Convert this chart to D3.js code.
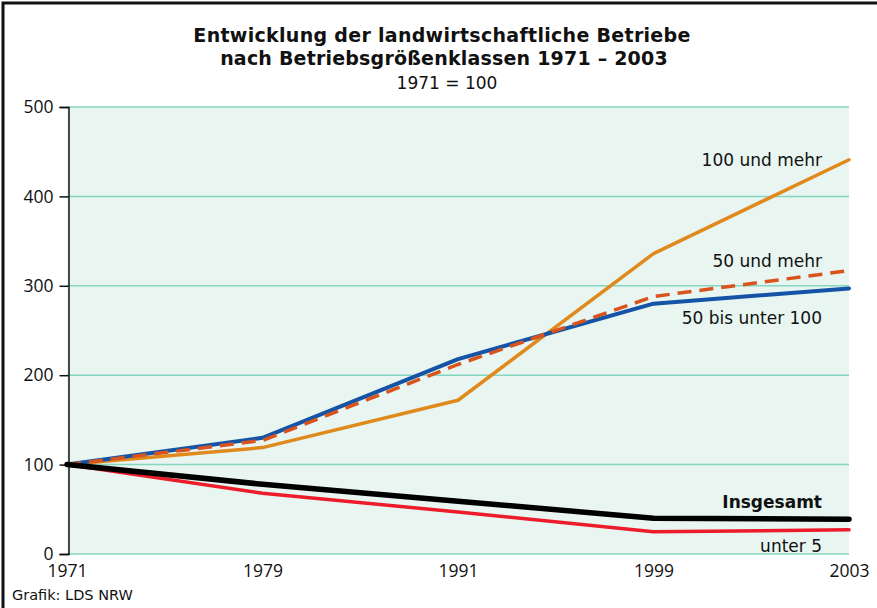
<!DOCTYPE html>
<html>
<head>
<meta charset="utf-8">
<script src="https://cdn.jsdelivr.net/npm/d3@7"></script>
<style>
  body { margin: 0; background: #fff; }
  svg text { font-family: "DejaVu Sans", sans-serif; fill: #111; }
</style>
</head>
<body>
<div id="chart"></div>
<script>
// Jahre und Indexwerte (1971 = 100)
const years = ["1971", "1979", "1991", "1999", "2003"];
const yTicks = [0, 100, 200, 300, 400, 500];

const insgesamt = [100, 78, 59, 40, 39];
const unter5 = [100, 68, 47, 25, 27];
const bis100 = [100, 130, 218, 280, 297];
const und50 = [100, 127, 212, 288, 317];
const und100 = [100, 119, 172, 336, 441];

const series = [
  { name: "100 und mehr", values: und100, color: "#e08a1e", width: 3.5, dash: null },
  { name: "50 bis unter 100", values: bis100, color: "#1553a6", width: 4, dash: null },
  { name: "50 und mehr", values: und50, color: "#d9541d", width: 3.5, dash: "14 8" },
  { name: "unter 5", values: unter5, color: "#ec1c2b", width: 3.5, dash: null },
  { name: "Insgesamt", values: insgesamt, color: "#000000", width: 5.5, dash: null }
];

const W = 877, H = 608;
const margin = { top: 107, right: 28, bottom: 54, left: 67 };
const width = W - margin.left - margin.right;
const height = H - margin.top - margin.bottom;

const svg = d3.select("#chart").append("svg")
  .attr("width", W).attr("height", H);

// Rahmen links und oben
svg.append("path")
  .attr("d", `M3,${H} L3,3 L${W},3`)
  .attr("fill", "none").attr("stroke", "#111").attr("stroke-width", 3);

// Titel
svg.append("text").attr("x", 442).attr("y", 42).attr("text-anchor", "middle")
  .style("font-size", "19px").style("font-weight", "700").style("letter-spacing", "0.3px")
  .text("Entwicklung der landwirtschaftliche Betriebe");
svg.append("text").attr("x", 444).attr("y", 65).attr("text-anchor", "middle")
  .style("font-size", "19px").style("font-weight", "700").style("letter-spacing", "0.2px")
  .text("nach Betriebsgrößenklassen 1971 – 2003");
svg.append("text").attr("x", 447).attr("y", 89).attr("text-anchor", "middle")
  .style("font-size", "17px")
  .text("1971 = 100");

const g = svg.append("g").attr("transform", `translate(${margin.left},${margin.top})`);

const x = d3.scalePoint().domain(years).range([0, width]);
const y = d3.scaleLinear().domain([0, 500]).range([height, 0]);

// Hintergrund
g.append("rect").attr("x", 0).attr("y", 0).attr("width", width).attr("height", height)
  .attr("fill", "#e8f5f0");

// Gitterlinien
g.selectAll(".grid").data(yTicks).join("line")
  .attr("class", "grid")
  .attr("x1", 0).attr("x2", width)
  .attr("y1", d => y(d)).attr("y2", d => y(d))
  .attr("stroke", "#86d5c2").attr("stroke-width", 1.5);

// Y-Achse
const yAxis = g.append("g").attr("transform", "translate(1.5,0)")
  .call(d3.axisLeft(y).tickValues(yTicks).tickSize(9).tickPadding(6));
yAxis.select(".domain").attr("stroke", "#111").attr("stroke-width", 1.5);
yAxis.selectAll(".tick line").attr("stroke", "#111").attr("stroke-width", 1.5);
yAxis.selectAll(".tick text").style("font-size", "17.5px").attr("fill", "#111")
  .style("font-family", "'Open Sans', sans-serif");

// X-Achse (nur Beschriftung)
const xAxis = g.append("g").attr("transform", `translate(0,${height})`)
  .call(d3.axisBottom(x).tickSize(0).tickPadding(11));
xAxis.select(".domain").remove();
xAxis.selectAll(".tick text").style("font-size", "17.5px").attr("fill", "#111")
  .style("font-family", "'Open Sans', sans-serif");

// Linien
const line = d3.line().x((d, i) => x(years[i])).y(d => y(d));

g.selectAll(".series").data(series).join("path")
  .attr("class", "series")
  .attr("d", d => line(d.values))
  .attr("fill", "none")
  .attr("stroke", d => d.color)
  .attr("stroke-width", d => d.width)
  .attr("stroke-dasharray", d => d.dash)
  .attr("stroke-linejoin", "round")
  .attr("stroke-linecap", d => d.dash ? "butt" : "round");

// Beschriftungen der Linien
const labels = [
  { text: "100 und mehr", value: 434, bold: false },
  { text: "50 und mehr", value: 321, bold: false },
  { text: "50 bis unter 100", value: 257, bold: false },
  { text: "Insgesamt", value: 51.5, bold: true },
  { text: "unter 5", value: 2.5, bold: false }
];
g.selectAll(".lbl").data(labels).join("text")
  .attr("class", "lbl")
  .attr("x", width - 27)
  .attr("y", d => y(d.value))
  .attr("text-anchor", "end")
  .style("font-size", "17px")
  .style("font-weight", d => d.bold ? "700" : "400")
  .text(d => d.text);

// Quelle
svg.append("text").attr("x", 12).attr("y", 600)
  .style("font-size", "14.5px")
  .text("Grafik: LDS NRW");
</script>
</body>
</html>
